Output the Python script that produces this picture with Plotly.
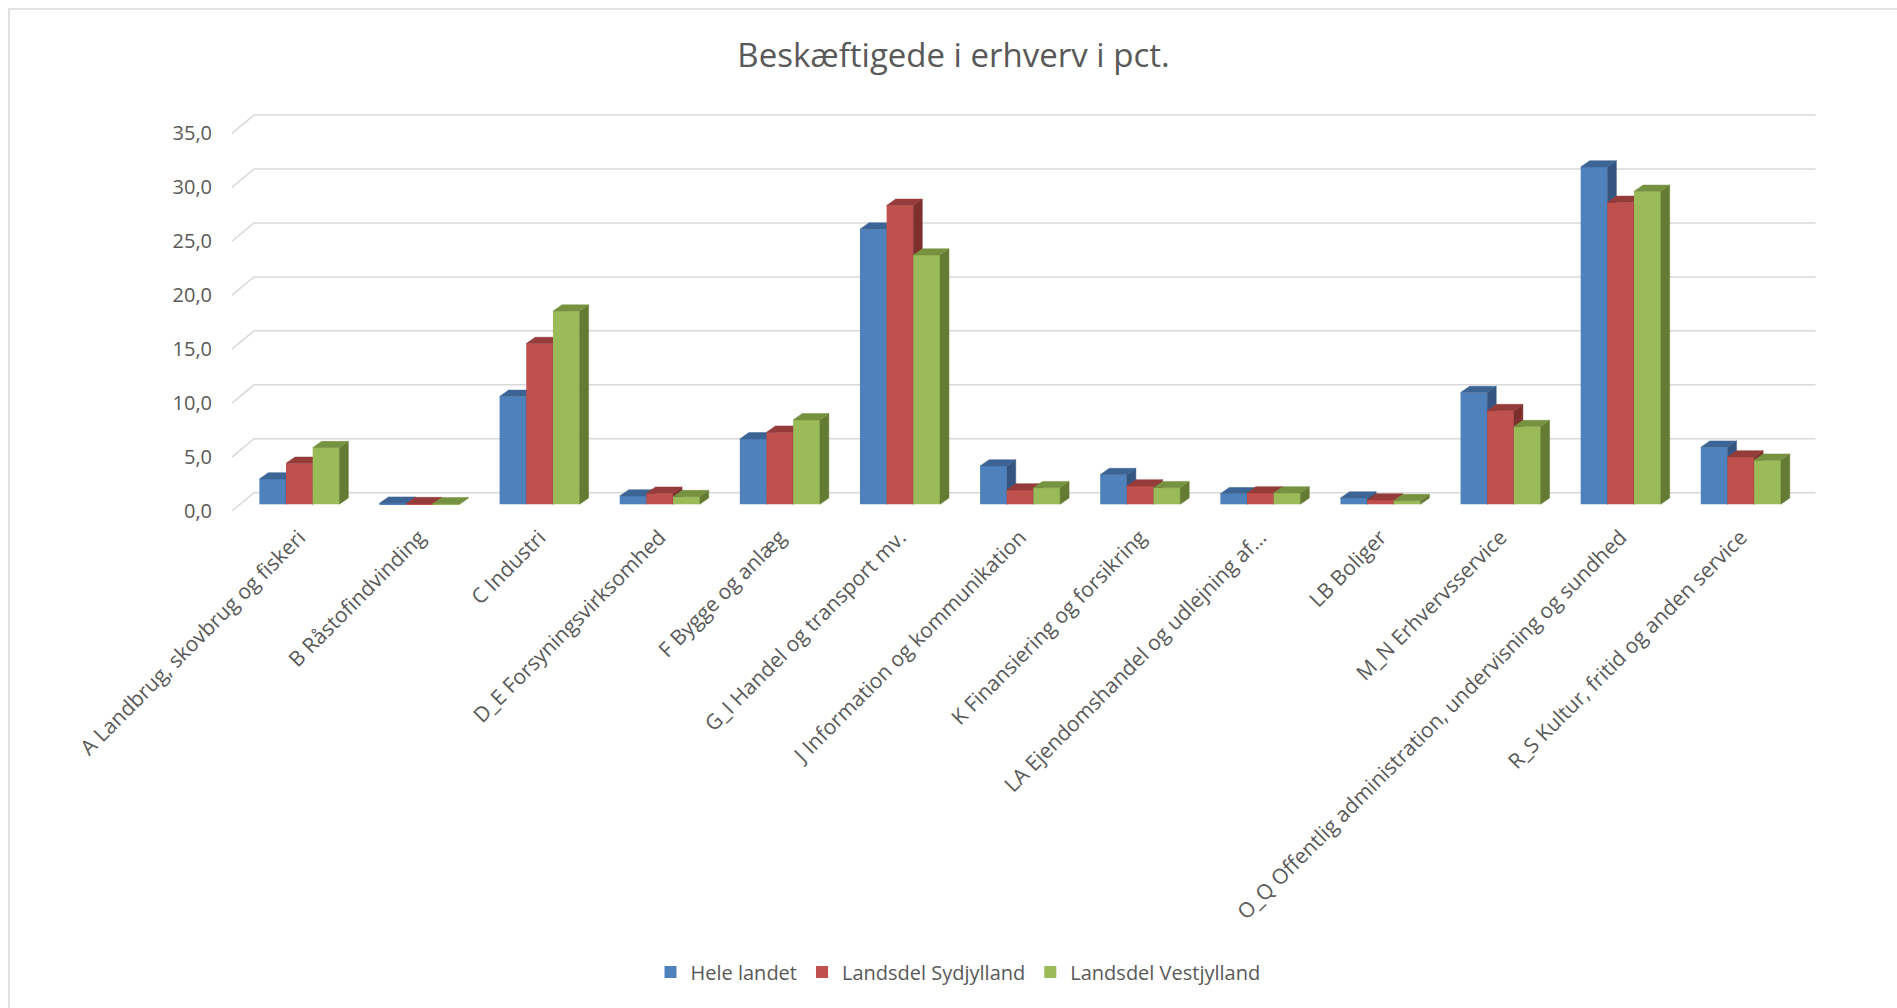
import plotly.graph_objects as go

# ---------------- data ----------------
categories = [
    "A Landbrug, skovbrug og fiskeri",
    "B Råstofindvinding",
    "C Industri",
    "D_E Forsyningsvirksomhed",
    "F Bygge og anlæg",
    "G_I Handel og transport mv.",
    "J Information og kommunikation",
    "K Finansiering og forsikring",
    "LA Ejendomshandel og udlejning af...",
    "LB Boliger",
    "M_N Erhvervsservice",
    "O_Q Offentlig administration, undervisning og sundhed",
    "R_S Kultur, fritid og anden service",
]
hele_landet = [2.35, 0.10, 10.0, 0.77, 6.06, 25.5, 3.55, 2.75, 0.98, 0.58, 10.35, 31.26, 5.29]
sydjylland = [3.80, 0.06, 14.9, 1.02, 6.68, 27.7, 1.33, 1.70, 1.05, 0.40, 8.68, 27.98, 4.39]
vestjylland = [5.25, 0.05, 17.9, 0.71, 7.82, 23.1, 1.54, 1.54, 1.05, 0.34, 7.20, 29.0, 4.08]
series_names = ["Hele landet", "Landsdel Sydjylland", "Landsdel Vestjylland"]
y_ticks = [0, 5, 10, 15, 20, 25, 30, 35]
title_text = "Beskæftigede i erhverv i pct."

series_values = [hele_landet, sydjylland, vestjylland]
front_colors = ["#4F81BD", "#C0504D", "#9BBB59"]
top_colors = ["#3C6595", "#953B3A", "#76913F"]
side_colors = ["#335580", "#7D2F2E", "#647B33"]

# ---------------- geometry (pixels -> data) ----------------
W, H = 1897, 1008
X0, X1, Y0, Y1 = 200, 1840, 100, 520          # plot area in pixels
PX_X = 120.12                                  # px per category
PX_Y = 10.79                                   # px per value unit
X_ORIGIN_PX = 239.3                            # px of x = -0.5 (bar front plane)
Y_ORIGIN_PX = 504.3                            # px of value 0 (bar front plane)
xr = [-0.5 + (X0 - X_ORIGIN_PX) / PX_X, -0.5 + (X1 - X_ORIGIN_PX) / PX_X]
yr = [(Y_ORIGIN_PX - Y1) / PX_Y, (Y_ORIGIN_PX - Y0) / PX_Y]

# depth offsets (data units)
dx_back, dy_back = 14.7 / PX_X, 11.6 / PX_Y      # back wall relative to bar front
dx_front, dy_front = -7.3 / PX_X, -6.7 / PX_Y    # front floor edge relative to bar front
dxb, dyb = 9.0 / PX_X, 6.3 / PX_Y                # bar depth

cluster = 80.0 / PX_X
bw = cluster / 3.0
n = len(categories)


def px_to_paper_x(px):
    return (px - X0) / (X1 - X0)


def px_to_paper_y(py):
    return (Y1 - py) / (Y1 - Y0)


fig = go.Figure()

# gridlines: front diagonal + back wall line
gx, gy = [], []
for v in y_ticks:
    gx += [-0.5 + dx_front, -0.5 + dx_back, n - 0.5 + dx_back, None]
    gy += [v + dy_front, v + dy_back, v + dy_back, None]
fig.add_trace(go.Scatter(x=gx, y=gy, mode="lines", line=dict(color="#D9D9D9", width=1.5),
                         hoverinfo="skip", showlegend=False, zorder=0))

for j, (name, vals) in enumerate(zip(series_names, series_values)):
    off = -cluster / 2 + j * bw
    idx = list(range(n))
    fig.add_trace(go.Bar(x=idx, y=vals, width=bw, offset=off, name=name,
                         marker=dict(color=front_colors[j], line=dict(width=0)),
                         hoverinfo="skip", zorder=3 * j + 1))
    sx, sy, tx, ty = [], [], [], []
    for i, v in enumerate(vals):
        xl = i + off
        xrt = xl + bw
        sx += [xrt, xrt, xrt + dxb, xrt + dxb, xrt, None]
        sy += [0, v, v + dyb, dyb, 0, None]
        tx += [xl, xrt, xrt + dxb, xl + dxb, xl, None]
        ty += [v, v, v + dyb, v + dyb, v, None]
    fig.add_trace(go.Scatter(x=sx, y=sy, mode="lines", fill="toself",
                             fillcolor=side_colors[j], line=dict(color=side_colors[j], width=0.5),
                             hoverinfo="skip", showlegend=False, zorder=3 * j + 2))
    fig.add_trace(go.Scatter(x=tx, y=ty, mode="lines", fill="toself",
                             fillcolor=top_colors[j], line=dict(color=top_colors[j], width=0.5),
                             hoverinfo="skip", showlegend=False, zorder=3 * j + 3))

# empty trace so that the front-plane value axis (y2) is drawn
fig.add_trace(go.Scatter(x=[None], y=[None], yaxis="y2", mode="lines",
                         hoverinfo="skip", showlegend=False))

FONT = "Open Sans"
TXT = "#595959"

fig.update_layout(
    width=W, height=H,
    margin=dict(l=X0, r=W - X1, t=Y0, b=H - Y1, autoexpand=False),
    paper_bgcolor="white", plot_bgcolor="rgba(0,0,0,0)",
    separators=",.",
    barmode="overlay",
    font=dict(family=FONT, color=TXT, size=20),
    title=dict(text=title_text, x=px_to_paper_x(953.5), xref="paper", xanchor="center",
               y=1 - 55 / H, yref="container", yanchor="middle",
               font=dict(family=FONT, size=33, color=TXT)),
    xaxis=dict(range=xr, tickmode="array", tickvals=list(range(n)), ticktext=categories,
               tickangle=-45, showgrid=False, zeroline=False, showline=False, ticks="",
               tickfont=dict(family=FONT, size=21, color=TXT), fixedrange=True),
    yaxis=dict(range=yr, visible=False, fixedrange=True),
    yaxis2=dict(range=[yr[0] - dy_front, yr[1] - dy_front], overlaying="y", anchor="free",
                position=px_to_paper_x(232), side="left", tickmode="array", tickvals=y_ticks,
                tickformat=".1f", showgrid=False, zeroline=False, showline=False, ticks="",
                ticklabelstandoff=20, tickfont=dict(family=FONT, size=20, color=TXT),
                fixedrange=True),
    legend=dict(orientation="h", x=px_to_paper_x(958), xanchor="center",
                y=px_to_paper_y(972), yanchor="middle",
                font=dict(family=FONT, size=20, color=TXT), bgcolor="rgba(0,0,0,0)"),
    showlegend=True,
    shapes=[dict(type="rect", xref="paper", yref="paper",
                 x0=px_to_paper_x(9), x1=px_to_paper_x(1910),
                 y0=px_to_paper_y(1020), y1=px_to_paper_y(9),
                 line=dict(color="#D9D9D9", width=1.5), layer="below")],
)

fig.write_html("out.html", config={"displayModeBar": False},
               post_script="document.body.style.margin='0';document.body.style.overflow='hidden';")
